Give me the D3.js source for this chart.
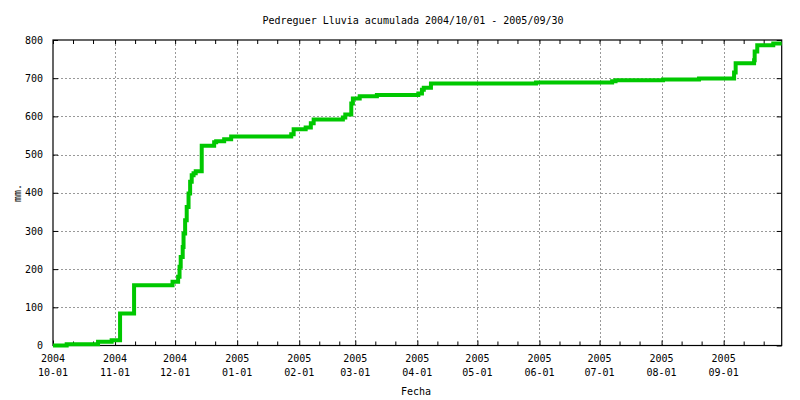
<!DOCTYPE html>
<html>
<head>
<meta charset="utf-8">
<script src="https://cdn.jsdelivr.net/npm/d3@7"></script>
<style>
  html, body { margin: 0; padding: 0; background: #fff; }
  text { font-family: "DejaVu Sans Mono", monospace; font-size: 10px; fill: #000; }
</style>
</head>
<body>
<svg id="chart" width="800" height="400"></svg>
<script>
// ---- data ----
const title = "Pedreguer Lluvia acumulada 2004/10/01 - 2005/09/30";
const xTitle = "Fecha";
const yTitle = "mm.";
const times = [
  "2004-10-01 00:00","2004-10-07 20:00","2004-10-23 12:00","2004-10-30 07:00",
  "2004-11-03 12:00","2004-11-10 12:00","2004-11-29 17:00",
  "2004-12-02 12:00","2004-12-03 05:00","2004-12-03 19:00","2004-12-04 19:00",
  "2004-12-05 05:00","2004-12-06 00:00","2004-12-06 19:00","2004-12-07 17:00",
  "2004-12-08 12:00","2004-12-09 07:00","2004-12-10 05:00","2004-12-11 07:00",
  "2004-12-14 07:00","2004-12-20 12:00","2004-12-21 12:00","2004-12-25 12:00",
  "2004-12-29 00:00","2005-01-28 00:00","2005-01-29 05:00","2005-02-04 05:00",
  "2005-02-06 19:00","2005-02-08 05:00","2005-02-22 19:00","2005-02-24 00:00",
  "2005-02-27 00:00","2005-02-27 19:00","2005-03-03 05:00","2005-03-11 19:00",
  "2005-04-01 12:00","2005-04-03 07:00","2005-04-04 05:00","2005-04-07 19:00",
  "2005-05-30 07:00","2005-07-07 07:00","2005-07-09 00:00","2005-08-01 17:00",
  "2005-08-19 17:00","2005-09-06 05:00","2005-09-07 00:00","2005-09-16 05:00",
  "2005-09-16 12:00","2005-09-17 19:00","2005-09-25 19:00","2005-09-30 00:00"
];
const cumRain = [
  0, 3, 10, 13.5,
  84, 158, 167,
  180, 206, 232, 258,
  293, 328, 363, 398,
  429, 446, 451, 456,
  523, 532, 535, 540,
  547, 553, 566, 571,
  582, 592, 597, 605,
  634, 647, 653, 656,
  660, 670, 675, 686,
  689, 692, 694.5, 696.5,
  699, 715, 739, 747,
  770, 786.5, 791, 791
];
const yTicks = [0, 100, 200, 300, 400, 500, 600, 700, 800];
const xStart = "2004-10-01", xEnd = "2005-09-30";

// ---- layout ----
const svg = d3.select("#chart");
const L = 53, R = 781.7, T = 40, B = 345.5;
const parseT = d3.utcParse("%Y-%m-%d %H:%M");
const parseD = d3.utcParse("%Y-%m-%d");
const data = times.map((t, i) => ({ t: parseT(t), v: cumRain[i] }));

const x = d3.scaleUtc().domain([parseD(xStart), parseD(xEnd)]).range([L, R]);
const y = d3.scaleLinear().domain([0, 800]).range([B, T]);

const majorX = d3.utcMonth.range(parseD(xStart), d3.utcDay.offset(parseD(xEnd), 1));
const minorX = d3.utcDay.range(parseD(xStart), parseD(xEnd))
  .filter(d => d.getUTCDate() === 11 || d.getUTCDate() === 21);

// grid
const grid = svg.append("g").attr("stroke", "#999").attr("stroke-dasharray", "2,2").attr("stroke-width", 1);
yTicks.filter(v => v > 0 && v < 800).forEach(v => {
  grid.append("line").attr("x1", L).attr("x2", R)
    .attr("y1", Math.round(y(v)) + 0.5).attr("y2", Math.round(y(v)) + 0.5);
});
majorX.filter(d => x(d) > L + 1).forEach(d => {
  grid.append("line").attr("y1", T).attr("y2", B)
    .attr("x1", Math.round(x(d)) + 0.5).attr("x2", Math.round(x(d)) + 0.5);
});

// axes (bottom ticks inward + labels)
const xAxis = d3.axisBottom(x).tickValues(majorX).tickSize(-5).tickFormat("");
const gx = svg.append("g").attr("transform", `translate(0,${B})`).call(xAxis);
gx.select(".domain").remove();
const gxm = svg.append("g").attr("transform", `translate(0,${B})`)
  .call(d3.axisBottom(x).tickValues(minorX).tickSize(-4).tickFormat(""));
gxm.select(".domain").remove();
// top mirror ticks
const gt = svg.append("g").attr("transform", `translate(0,${T})`)
  .call(d3.axisTop(x).tickValues(majorX.concat(minorX)).tickSize(-4).tickFormat(""));
gt.select(".domain").remove();

// x labels
const xl = svg.append("g");
majorX.forEach(d => {
  const px = x(d);
  xl.append("text").attr("x", px).attr("y", 362).attr("text-anchor", "middle")
    .text(d3.utcFormat("%Y")(d));
  xl.append("text").attr("x", px).attr("y", 376).attr("text-anchor", "middle")
    .text(d3.utcFormat("%m-%d")(d));
});

// y axis
const gy = svg.append("g").attr("transform", `translate(${L},0)`)
  .call(d3.axisLeft(y).tickValues(yTicks).tickSize(-5).tickPadding(10));
gy.select(".domain").remove();
gy.selectAll("text").attr("font-family", "DejaVu Sans Mono").attr("font-size", "10px");
const gyr = svg.append("g").attr("transform", `translate(${R},0)`)
  .call(d3.axisRight(y).tickValues(yTicks).tickSize(-5).tickFormat(""));
gyr.select(".domain").remove();

// frame
svg.append("rect").attr("x", L).attr("y", T).attr("width", R - L).attr("height", B - T)
  .attr("fill", "none").attr("stroke", "#000").attr("stroke-width", 1.2);

// line
const line = d3.line().x(d => x(d.t)).y(d => y(d.v)).curve(d3.curveStepAfter);
svg.append("path").datum(data).attr("d", line)
  .attr("fill", "none").attr("stroke", "#00c800").attr("stroke-width", 4)
  .attr("stroke-linejoin", "miter");

// titles
svg.append("text").attr("x", 413).attr("y", 24).attr("text-anchor", "middle").text(title);
svg.append("text").attr("x", 416).attr("y", 395).attr("text-anchor", "middle").text(xTitle);
svg.append("text").attr("transform", "translate(21,193) rotate(-90)")
  .attr("text-anchor", "middle").text(yTitle);
</script>
</body>
</html>
